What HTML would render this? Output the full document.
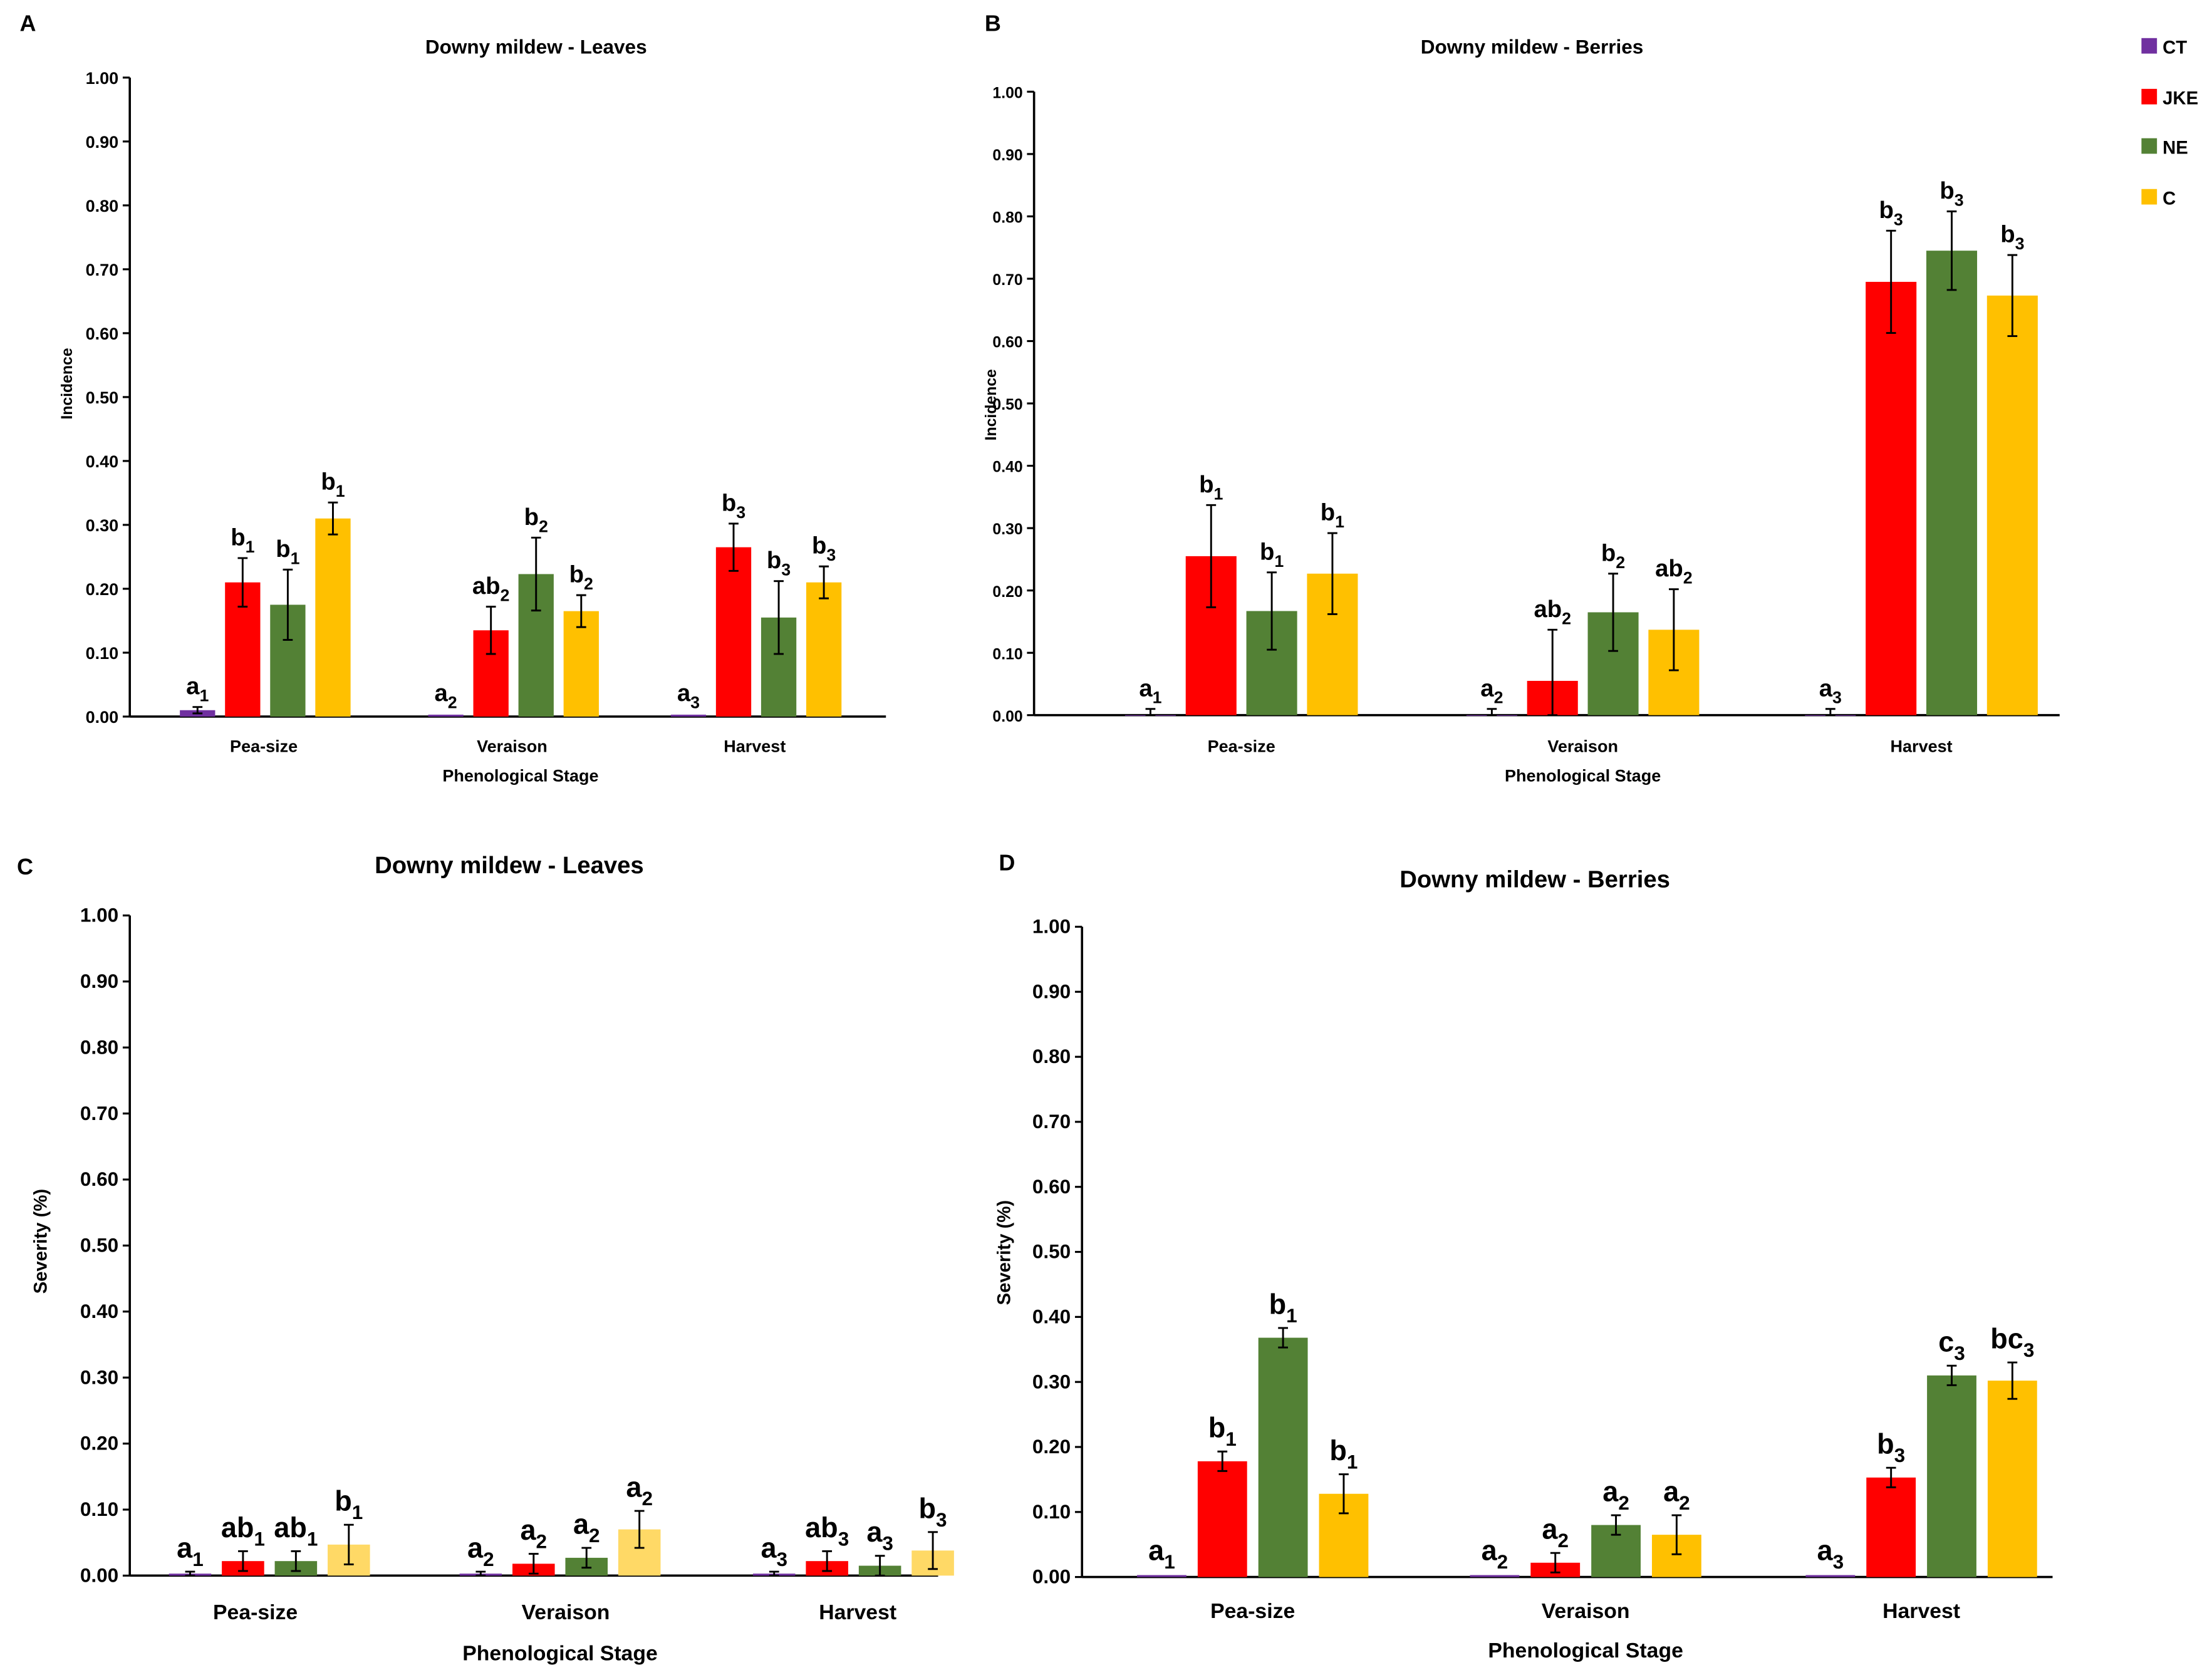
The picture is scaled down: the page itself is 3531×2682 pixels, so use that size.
<!DOCTYPE html>
<html><head><meta charset="utf-8"><style>html,body{margin:0;padding:0;background:#fff}svg{display:block}text{font-family:"Liberation Sans",sans-serif;font-weight:bold;fill:#000}</style></head>
<body>
<svg id="chart" width="3531" height="2682" viewBox="0 0 1568 1191" xmlns="http://www.w3.org/2000/svg"></svg>
<script>
const categories = ["Pea-size","Veraison","Harvest"];
const seriesNames = ["CT","JKE","NE","C"];
const yTicks = [0,0.1,0.2,0.3,0.4,0.5,0.6,0.7,0.8,0.9,1.0];
// Panel A
const aCT=[0.010,0.003,0.003], aJKE=[0.21,0.135,0.265], aNE=[0.175,0.223,0.155], aC=[0.31,0.165,0.21];
const aErrCT=[0.005,0,0], aErrJKE=[0.038,0.037,0.037], aErrNE=[0.055,0.057,0.057], aErrC=[0.025,0.025,0.025];
const aLet=[["a","1","b","1","b","1","b","1"],["a","2","ab","2","b","2","b","2"],["a","3","b","3","b","3","b","3"]];
// Panel B
const bCT=[0,0,0], bJKE=[0.255,0.055,0.695], bNE=[0.167,0.165,0.745], bC=[0.227,0.137,0.673];
const bErrCT=[0.01,0.01,0.01], bErrJKE=[0.082,0.082,0.082], bErrNE=[0.062,0.062,0.063], bErrC=[0.065,0.065,0.065];
const bLet=[["a","1","b","1","b","1","b","1"],["a","2","ab","2","b","2","ab","2"],["a","3","b","3","b","3","b","3"]];
// Panel C
const cCT=[0.003,0.003,0.003], cJKE=[0.022,0.018,0.022], cNE=[0.022,0.027,0.015], cC=[0.047,0.07,0.038];
const cErrCT=[0.003,0.003,0.003], cErrJKE=[0.015,0.015,0.015], cErrNE=[0.015,0.015,0.015], cErrC=[0.03,0.028,0.028];
const cLet=[["a","1","ab","1","ab","1","b","1"],["a","2","a","2","a","2","a","2"],["a","3","ab","3","a","3","b","3"]];
// Panel D
const dCT=[0.003,0.003,0.003], dJKE=[0.178,0.022,0.153], dNE=[0.368,0.08,0.31], dC=[0.128,0.065,0.302];
const dErrCT=[0,0,0], dErrJKE=[0.015,0.015,0.015], dErrNE=[0.015,0.015,0.015], dErrC=[0.03,0.03,0.028];
const dLet=[["a","1","b","1","b","1","b","1"],["a","2","a","2","a","2","a","2"],["a","3","b","3","c","3","bc","3"]];

const NS="http://www.w3.org/2000/svg";
const svg=document.getElementById('chart');
function mk(tag,attrs,parent){const e=document.createElementNS(NS,tag);for(const k in attrs)e.setAttribute(k,attrs[k]);(parent||svg).appendChild(e);return e;}
function txt(s,attrs,parent){const e=mk('text',attrs,parent);e.textContent=s;return e;}

function panel(cfg){
  const g=mk('g',{});
  
  
  const y=v=>cfg.y0-(cfg.y0-cfg.y1)*v;
  const lab=txt(cfg.id,{x:cfg.lx,y:cfg.ly,'font-size':16},g);
  
  
  const t=txt("Downy mildew - "+cfg.title,{x:cfg.tx,y:cfg.ty,'font-size':cfg.tfs,'text-anchor':'middle'},g);
  
  
  const ax=mk('line',{x1:cfg.ax,y1:cfg.y1,x2:cfg.ax,y2:cfg.y0,stroke:'#000','stroke-width':1.6},g);
  
  
  const bx=mk('line',{x1:cfg.ax,y1:cfg.y0,x2:cfg.xr,y2:cfg.y0,stroke:'#000','stroke-width':1.6},g);
  
  
  yTicks.forEach(v=>{
    mk('line',{x1:cfg.ax-5,y1:y(v),x2:cfg.ax,y2:y(v),stroke:'#000','stroke-width':1.4},g);
    const tl=txt(v.toFixed(2),{x:cfg.ax-8,y:y(v)+4.5,'font-size':cfg.fs,'text-anchor':'end'},g);
    
    
  });
  const yl=txt(cfg.ylabel,{x:0,y:0,'font-size':cfg.yfs,'text-anchor':'middle',transform:`translate(${cfg.ylx},${cfg.yly}) rotate(-90)`},g);
  
  
  const xl=txt("Phenological Stage",{x:cfg.xlx,y:cfg.xly,'font-size':cfg.xfs,'text-anchor':'middle'},g);
  
  
  categories.forEach((c,i)=>{
    const cl=txt(c,{x:cfg.gx[i],y:cfg.cly,'font-size':cfg.xfs,'text-anchor':'middle'},g);
    
    
    const cx=cfg.bx[i];
    cfg.vals.forEach((arr,s)=>{
      const bxc=cx+(s-1.5)*cfg.step;
      const v=arr[i], e=cfg.errs[s][i];
      const top=y(v);
      const r=mk('rect',{x:bxc-cfg.bw/2,y:top,width:cfg.bw,height:Math.max(cfg.y0-top,0.5),fill:cfg.colors[s]},g);
      
      
      let topLbl=top;
      if(e>0){
        const ey1=y(v+e), ey2=y(Math.max(v-e,0));
        mk('line',{x1:bxc,y1:ey1,x2:bxc,y2:ey2,stroke:'#000','stroke-width':1.3},g);
        mk('line',{x1:bxc-3.5,y1:ey1,x2:bxc+3.5,y2:ey1,stroke:'#000','stroke-width':1.3},g);
        mk('line',{x1:bxc-3.5,y1:ey2,x2:bxc+3.5,y2:ey2,stroke:'#000','stroke-width':1.3},g);
        topLbl=ey1;
      } else if (v<0.02){ topLbl=Math.min(top,cfg.y0-2); }
      const L=cfg.lets[i];
      const lt=txt('',{x:bxc,y:topLbl-cfg.lgap-cfg.lfs*0.3,'font-size':cfg.lfs,'text-anchor':'middle'},g);
      
      
      const t1=mk('tspan',{},lt);t1.textContent=L[s*2];
      const t2=mk('tspan',{dy:cfg.lfs*0.3,'font-size':cfg.lfs*0.7},lt);t2.textContent=L[s*2+1];
    });
  });
}
const col1=["#7030A0","#FF0000","#538135","#FFC000"];
const colC=["#7030A0","#FF0000","#538135","#FFD966"];
panel({id:"A",lx:14,ly:22,title:"Leaves",tx:380,ty:38,tfs:14,ax:92,y1:55,y0:508,xr:628,fs:12,ylabel:"Incidence",ylx:51,yly:272,yfs:11,xlx:369,xly:554,xfs:12,gx:[187,363,535],bx:[188,364,536],cly:533,step:32,bw:25,colors:col1,vals:[aCT,aJKE,aNE,aC],errs:[aErrCT,aErrJKE,aErrNE,aErrC],lets:aLet,lfs:17,lgap:4});
panel({id:"B",lx:698,ly:22,title:"Berries",tx:1086,ty:38,tfs:14,ax:733,y1:65,y0:507,xr:1460,fs:11,ylabel:"Incidence",ylx:706,yly:287,yfs:11,xlx:1122,xly:554,xfs:12,gx:[880,1122,1362],bx:[880,1122,1362],cly:533,step:43,bw:36,colors:col1,vals:[bCT,bJKE,bNE,bC],errs:[bErrCT,bErrJKE,bErrNE,bErrC],lets:bLet,lfs:17,lgap:4});
panel({id:"C",lx:12,ly:620,title:"Leaves",tx:361,ty:619,tfs:17,ax:92,y1:649,y0:1117,xr:665,fs:14,ylabel:"Severity (%)",ylx:33,yly:880,yfs:13,xlx:397,xly:1177,xfs:15,gx:[181,401,608],bx:[191,397,605],cly:1148,step:37.5,bw:30,colors:colC,vals:[cCT,cJKE,cNE,cC],errs:[cErrCT,cErrJKE,cErrNE,cErrC],lets:cLet,lfs:20,lgap:4});
panel({id:"D",lx:708,ly:617,title:"Berries",tx:1088,ty:629,tfs:17,ax:767,y1:657,y0:1118,xr:1455,fs:14,ylabel:"Severity (%)",ylx:716,yly:888,yfs:13,xlx:1124,xly:1175,xfs:15,gx:[888,1124,1362],bx:[888,1124,1362],cly:1147,step:43,bw:35,colors:col1,vals:[dCT,dJKE,dNE,dC],errs:[dErrCT,dErrJKE,dErrNE,dErrC],lets:dLet,lfs:20,lgap:4});

// legend
const lg=mk('g',{});


const legY=[33,69,104,140];
seriesNames.forEach((n,i)=>{
  const e=mk('g',{},lg);
  
  
  mk('rect',{x:1518,y:legY[i]-6,width:11,height:11,fill:col1[i]},e);
  txt(n,{x:1533,y:legY[i]+5,'font-size':13},e);
});
</script>
</body></html>
